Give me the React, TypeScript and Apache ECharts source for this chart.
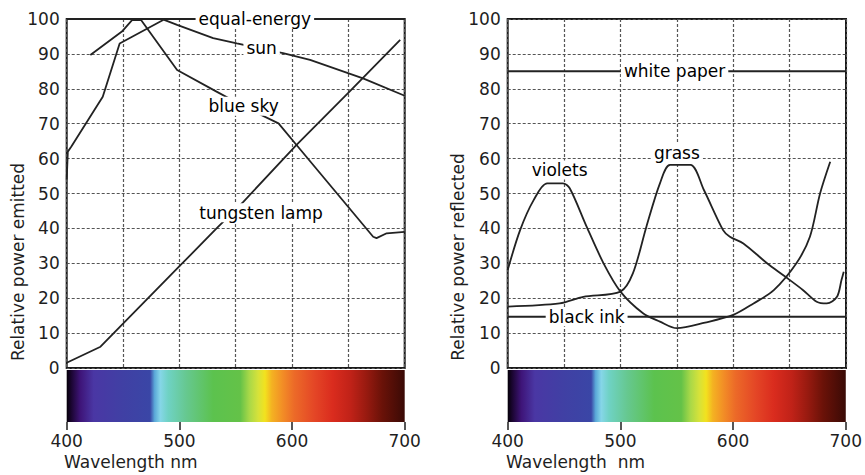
import React, { useEffect, useRef } from "react";
import * as echarts from "echarts";

// ---------- data ----------
const yTicks = [0, 10, 20, 30, 40, 50, 60, 70, 80, 90, 100];
const xTicks = [400, 500, 600, 700];

// left chart: relative power emitted
const equalEnergy = [[400, 100], [700, 100]];
const sun = [[400, 54], [401, 62], [404, 63.4], [432, 77.7], [447, 93], [486, 99.8], [498, 98.3], [530, 94.5], [551, 93], [592, 90.2], [616, 88.3], [663, 83], [700, 78]];
const blueSky = [[421, 89.7], [449, 96.4], [458, 99.7], [466, 99.7], [498, 85.4], [533, 79.2], [560, 74.5], [588, 70.1], [604, 63.9], [672, 37.6], [675, 37.2], [684, 38.6], [700, 39]];
const tungstenLamp = [[400, 1.5], [430, 6.1], [499, 28.8], [533, 40], [557, 47.7], [604, 63.9], [651, 79.2], [696, 94]];
const leftLabels = [
  ["equal-energy", 567, 100],
  ["sun", 573, 91.7],
  ["blue sky", 557, 75],
  ["tungsten lamp", 572.5, 44.5],
];

// right chart: relative power reflected
const whitePaper = [[400, 85], [700, 85]];
const blackInk = [[400, 14.7], [700, 14.7]];
const violets = [[400, 28.1], [411, 39.5], [423, 48.1], [435, 52.9], [449, 52.9], [455, 51.5], [470, 40.5], [485, 30], [500, 21.9], [520, 15.7], [535, 13.3], [550, 11.4], [575, 13], [600, 15.2], [618, 18.5], [636, 22.3], [656, 30], [668, 37.6], [677, 50], [686, 59.1]];
const grass = [[400, 17.6], [446, 18.5], [467, 20.4], [500, 21.9], [511, 27.1], [523, 40.5], [535, 52.9], [544, 58.2], [562, 58.2], [574, 51], [591, 39.5], [597, 37.6], [609, 35.7], [630, 30], [646, 26.2], [662, 22.3], [674, 19], [683, 18.5], [692, 20.4], [696, 25.2], [698, 27.6]];
const rightLabels = [
  ["white paper", 548, 85],
  ["black ink", 470, 14.7],
  ["violets", 446, 56.7],
  ["grass", 550, 61.6],
];

// visible spectrum bar
const spectrumNm = [400, 404, 412, 424, 450, 474, 478, 483, 490, 506, 530, 554, 562, 570, 576, 582, 592, 602, 620, 636, 652, 666, 680, 700];
const spectrumColors = ["#050008", "#1a0530", "#3e1478", "#4a37a4", "#4040a4", "#3a46a6", "#5aa8d8", "#86d6e8", "#6fd2c4", "#66c890", "#5cc24e", "#64c248", "#a8d848", "#d6e23a", "#f2e21e", "#f4b222", "#f28c26", "#ec6a28", "#e44626", "#da2c1e", "#c02218", "#981a10", "#6a1208", "#3a0a06"];

const FONT = "DejaVu Sans";
const INK = "#1e1e1e";

export default function App() {
  const ref = useRef<HTMLDivElement>(null);
  useEffect(() => {
    if (!ref.current) return;
    const chart = echarts.init(ref.current, undefined, { renderer: "svg" });

    const gridL = { left: 66.7, top: 19, width: 338, height: 349 };
    const gridR = { left: 507.7, top: 19, width: 338.3, height: 349 };
    const specTop = 370;
    const specH = 52;

    const plotX = (gi: number) => ({
      type: "value", gridIndex: gi, min: 400, max: 700, interval: 50,
      axisLine: { show: false }, axisTick: { show: false }, axisLabel: { show: false },
      splitLine: { show: true, lineStyle: { color: "#555", type: [3, 2], width: 1.2 } },
    });
    const plotY = (gi: number) => ({
      type: "value", gridIndex: gi, min: 0, max: 100, interval: 10,
      axisLine: { show: false }, axisTick: { show: false },
      axisLabel: { fontSize: 17, fontFamily: FONT, color: INK, margin: 7 },
      splitLine: { show: true, lineStyle: { color: "#555", type: [3, 2], width: 1.2 } },
    });
    const specX = (gi: number) => ({
      type: "value", gridIndex: gi, min: 400, max: 700, interval: 100,
      axisLine: { show: false },
      axisTick: { show: true, length: 8, lineStyle: { color: INK, width: 1.5 } },
      axisLabel: { fontSize: 17, fontFamily: FONT, color: INK, margin: 10 },
      splitLine: { show: false },
    });
    const specY = (gi: number) => ({
      type: "value", gridIndex: gi, min: 0, max: 1, show: false,
    });

    const stops = spectrumNm.map((nm, i) => ({ offset: (nm - 400) / 300, color: spectrumColors[i] }));

    const spectrumSeries = (ai: number) => ({
      type: "custom", xAxisIndex: ai, yAxisIndex: ai, clip: false,
      data: [[400, 0, 700, 1]],
      renderItem: (params: any, api: any) => {
        const p0 = api.coord([api.value(0), api.value(3)]);
        const p1 = api.coord([api.value(2), api.value(1)]);
        return {
          type: "rect",
          shape: { x: p0[0], y: p0[1], width: p1[0] - p0[0], height: p1[1] - p0[1] },
          style: { fill: new echarts.graphic.LinearGradient(0, 0, 1, 0, stops) },
        };
      },
    });

    const lineS = (data: number[][], ai: number, smooth: number | boolean = false, width = 1.8) => ({
      type: "line", xAxisIndex: ai, yAxisIndex: ai, data, smooth, symbol: "none", z: 3,
      lineStyle: { color: "#222", width },
    });

    const labelS = (labels: any[], ai: number) => ({
      type: "scatter", xAxisIndex: ai, yAxisIndex: ai, z: 10, symbolSize: 0, symbol: "rect",
      itemStyle: { color: "#fff", opacity: 1 },
      data: labels.map((l) => ({ name: l[0], value: [l[1], l[2]] })),
      label: {
        show: true, position: "inside", formatter: "{b}", fontSize: 17, fontFamily: FONT,
        color: "#000", opacity: 1, backgroundColor: "#fff", padding: [1, 3],
        textBorderWidth: 0, textBorderColor: "transparent",
      },
    });

    chart.setOption({
      animation: false,
      backgroundColor: "#fff",
      grid: [
        { ...gridL, show: true, borderColor: "#1a1a1a", borderWidth: 2, backgroundColor: "#fff" },
        { left: gridL.left, top: specTop, width: gridL.width, height: specH },
        { ...gridR, show: true, borderColor: "#1a1a1a", borderWidth: 2, backgroundColor: "#fff" },
        { left: gridR.left, top: specTop, width: gridR.width, height: specH },
      ],
      xAxis: [plotX(0), specX(1), plotX(2), specX(3)],
      yAxis: [plotY(0), specY(1), plotY(2), specY(3)],
      series: [
        lineS(equalEnergy, 0, false, 2),
        lineS(sun, 0),
        lineS(blueSky, 0),
        lineS(tungstenLamp, 0),
        labelS(leftLabels, 0),
        spectrumSeries(1),
        lineS(whitePaper, 2, false, 2),
        lineS(blackInk, 2, false, 2),
        lineS(violets, 2, 0.3),
        lineS(grass, 2, 0.3),
        labelS(rightLabels, 2),
        spectrumSeries(3),
      ],
      graphic: [
        { type: "text", x: 18, y: 262, rotation: Math.PI / 2, style: { text: "Relative power emitted", fontSize: 17, fontFamily: FONT, fill: INK, align: "center", verticalAlign: "middle" } },
        { type: "text", x: 458, y: 257, rotation: Math.PI / 2, style: { text: "Relative power reflected", fontSize: 17, fontFamily: FONT, fill: INK, align: "center", verticalAlign: "middle" } },
        { type: "text", x: 64, y: 462, style: { text: "Wavelength nm", fontSize: 17, fontFamily: FONT, fill: INK, align: "left", verticalAlign: "middle" } },
        { type: "text", x: 506, y: 462, style: { text: "Wavelength  nm", fontSize: 17, fontFamily: FONT, fill: INK, align: "left", verticalAlign: "middle" } },
      ],
    });
    return () => chart.dispose();
  }, []);
  return (
    <div ref={ref} style={{ position: "fixed", left: 0, top: 0, width: 865, height: 475, background: "#fff" }} />
  );
}
